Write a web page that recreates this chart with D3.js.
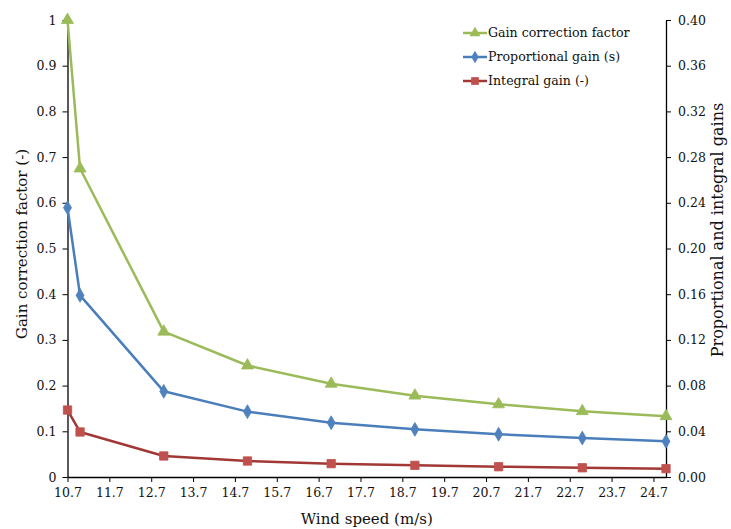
<!DOCTYPE html>
<html>
<head>
<meta charset="utf-8">
<script src="https://cdn.jsdelivr.net/npm/d3@7"></script>
<style>
  body { margin: 0; background: #fff; }
  svg text { font-family: "DejaVu Serif", "Liberation Serif", serif; fill: #111; }
</style>
</head>
<body>
<div id="chart"></div>
<script>
var windSpeed = [10.7, 11, 13, 15, 17, 19, 21, 23, 25];
var gainCorrection = [1, 0.675, 0.318, 0.244, 0.204, 0.178, 0.159, 0.144, 0.133];
var proportionalGain = [0.2357, 0.159, 0.075, 0.0572, 0.0475, 0.0417, 0.0374, 0.0341, 0.0312];
var integralGain = [0.0586, 0.0394, 0.0184, 0.014, 0.0117, 0.0102, 0.009, 0.0081, 0.0073];
var xTicks = [10.7, 11.7, 12.7, 13.7, 14.7, 15.7, 16.7, 17.7, 18.7, 19.7, 20.7, 21.7, 22.7, 23.7, 24.7];
var leftTicks = [0, 0.1, 0.2, 0.3, 0.4, 0.5, 0.6, 0.7, 0.8, 0.9, 1];
var rightTicks = [0, 0.04, 0.08, 0.12, 0.16, 0.2, 0.24, 0.28, 0.32, 0.36, 0.4];

var width = 731, height = 529;
var margin = {left: 67.5, right: 65, top: 20, bottom: 52};

var svg = d3.select("#chart").append("svg")
    .attr("width", width)
    .attr("height", height);

var x = d3.scaleLinear().domain([10.7, 25]).range([margin.left, width - margin.right]);
var yLeft = d3.scaleLinear().domain([0, 1]).range([height - margin.bottom, margin.top]);
var yRight = d3.scaleLinear().domain([0, 0.4]).range([height - margin.bottom, margin.top]);

var series = [
    {name: "Gain correction factor", values: gainCorrection, y: yLeft, line: "#9BBB59", fill: "#9BBB59", symbol: d3.symbolTriangle, size: 62},
    {name: "Proportional gain (s)", values: proportionalGain, y: yRight, line: "#4A7EBB", fill: "#4F81BD", symbol: d3.symbolDiamond, size: 55},
    {name: "Integral gain (-)", values: integralGain, y: yRight, line: "#A13835", fill: "#C0504D", symbol: d3.symbolSquare, size: 70}
];

// axes
svg.append("g")
    .attr("transform", "translate(0," + (height - margin.bottom) + ")")
    .call(d3.axisBottom(x).tickValues(xTicks).tickFormat(d3.format(".1f")).tickSize(5).tickSizeOuter(0).tickPadding(6));

svg.append("g")
    .attr("transform", "translate(" + margin.left + ",0)")
    .call(d3.axisLeft(yLeft).tickValues(leftTicks).tickFormat(function (d) { return d3.format("")(+d.toFixed(1)); }).tickSize(5).tickSizeOuter(0).tickPadding(6));

svg.append("g")
    .attr("transform", "translate(" + (width - margin.right) + ",0)")
    .call(d3.axisRight(yRight).tickValues(rightTicks).tickFormat(d3.format(".2f")).tickSize(5).tickSizeOuter(0).tickPadding(7));

svg.selectAll(".domain").attr("stroke", "#000").attr("stroke-width", 1.3);
svg.selectAll(".tick line").attr("stroke", "#000");
svg.selectAll(".tick text").style("font-size", "12.5px").attr("fill", "#111");

// lines and markers
series.forEach(function (s) {
    var line = d3.line()
        .x(function (d, i) { return x(windSpeed[i]); })
        .y(function (d) { return s.y(d); });

    svg.append("path")
        .datum(s.values)
        .attr("fill", "none")
        .attr("stroke", s.line)
        .attr("stroke-width", 2.5)
        .attr("stroke-linejoin", "round")
        .attr("d", line);

    svg.selectAll(null)
        .data(s.values)
        .enter().append("path")
        .attr("d", d3.symbol().type(s.symbol).size(s.size))
        .attr("transform", function (d, i) { return "translate(" + x(windSpeed[i]) + "," + s.y(d) + ")"; })
        .attr("fill", s.fill)
        .attr("stroke", s.fill)
        .attr("stroke-width", 0.8);
});

// legend
var legend = svg.append("g").attr("transform", "translate(463,33)");
series.forEach(function (s, i) {
    var g = legend.append("g").attr("transform", "translate(0," + (i * 24) + ")");
    g.append("line")
        .attr("x1", 0).attr("x2", 24)
        .attr("stroke", s.line).attr("stroke-width", 2.5);
    g.append("path")
        .attr("d", d3.symbol().type(s.symbol).size(s.size * 0.85))
        .attr("transform", "translate(12,0)")
        .attr("fill", s.fill);
    g.append("text")
        .attr("x", 25)
        .attr("dy", "0.35em")
        .style("font-size", "12.6px")
        .text(s.name);
});

// axis titles
svg.append("text")
    .attr("x", (margin.left + width - margin.right) / 2)
    .attr("y", height - 5)
    .attr("text-anchor", "middle")
    .style("font-size", "15px")
    .text("Wind speed (m/s)");

svg.append("text")
    .attr("transform", "translate(27,244) rotate(-90)")
    .attr("text-anchor", "middle")
    .style("font-size", "15px")
    .text("Gain correction factor (-)");

svg.append("text")
    .attr("transform", "translate(723,230) rotate(-90)")
    .attr("text-anchor", "middle")
    .style("font-size", "16px")
    .text("Proportional and integral gains");
</script>
</body>
</html>
